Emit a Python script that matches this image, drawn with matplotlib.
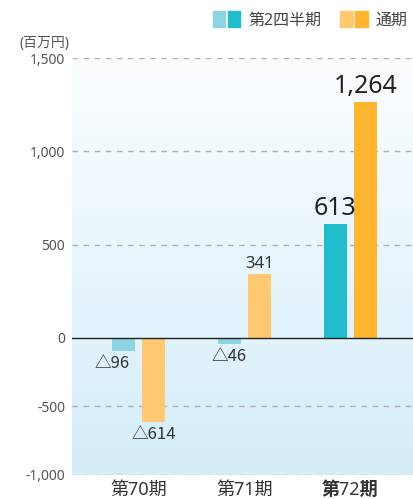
import numpy as np
import matplotlib.pyplot as plt
from matplotlib.patches import Patch
from matplotlib.legend_handler import HandlerTuple
from matplotlib.colors import LinearSegmentedColormap

plt.rcParams['font.family'] = ['Noto Sans', 'Noto Sans CJK JP', 'DejaVu Sans']

periods = ['第70期', '第71期', '第72期']
q2 = [-96, -46, 613]
full = [-614, 341, 1264]
q2_labels = ['△96', '△46', '613']
full_labels = ['△614', '341', '1,264']
yticks = [-1000, -500, 0, 500, 1000, 1500]
ytick_labels = ['-1,000', '-500', '0', '500', '1,000', '1,500']

cyan_light, cyan_dark = '#8dd5e1', '#22bdcc'
orange_light, orange_dark = '#ffc871', '#ffb530'
txt = '#333333'

NEG = 0.734  # negative side is drawn compressed


def fwd(y):
    y = np.asarray(y, dtype=float)
    return np.where(y >= 0, y, y * NEG)


def inv(y):
    y = np.asarray(y, dtype=float)
    return np.where(y >= 0, y, y / NEG)


fig = plt.figure(figsize=(4.14, 4.99), dpi=100)
ax = fig.add_axes([72 / 414, 24 / 499, 342 / 414, 417 / 499])
ax.set_yscale('function', functions=(fwd, inv))
ax.set_xlim(-0.627, 2.599)
ax.set_ylim(-1000, 1500)

# background gradient
grad = LinearSegmentedColormap.from_list('bg', ['#d4edf9', '#fbfdff'])
ax.imshow(np.linspace(0, 1, 256).reshape(-1, 1), cmap=grad, aspect='auto',
          extent=[0, 1, 0, 1], transform=ax.transAxes, origin='lower', zorder=0)

x = np.arange(len(periods))
w = 0.217
off = 0.1415
c_cols = [cyan_light, cyan_light, cyan_dark]
o_cols = [orange_light, orange_light, orange_dark]
ax.bar(x - off, q2, w, color=c_cols, zorder=3)
ax.bar(x + off, full, w, color=o_cols, zorder=3)

for yv in yticks:
    if yv == 0:
        ax.axhline(0, color='#222222', lw=1.0, zorder=4)
    else:
        ax.axhline(yv, color='#b0b0b0', lw=1.0, ls=(0, (4, 4)), zorder=1)

# value labels
for i in range(len(periods)):
    for xi, v, lab, dx in [(x[i] - off, q2[i], q2_labels[i], -8 if i == 0 else 0),
                           (x[i] + off, full[i], full_labels[i], 0)]:
        big = i == 2
        fs = 18 if big else 12
        if v >= 0:
            ax.annotate(lab, (xi, v), xytext=(dx, 2), textcoords='offset points',
                        ha='center', va='bottom', fontsize=fs, color='#222222' if big else txt)
        else:
            ax.annotate(lab, (xi, v), xytext=(dx, -3), textcoords='offset points',
                        ha='center', va='top', fontsize=fs, color=txt,
                        family=['Noto Sans CJK JP', 'Noto Sans'])

ax.set_yticks(yticks)
ax.set_yticklabels(ytick_labels, fontsize=10, color='#555555')
ax.set_xticks(x)
ax.set_xticklabels(periods, fontsize=13, color=txt)
ax.get_xticklabels()[2].set_fontweight('bold')
ax.tick_params(length=0, pad=5)
ax.tick_params(axis='x', pad=4)
for s in ax.spines.values():
    s.set_visible(False)

fig.text(20 / 414, 1 - 44 / 499, '(百万円)', fontsize=10, color='#555555', va='center', ha='left')

handles = [(Patch(color=cyan_light), Patch(color=cyan_dark)),
           (Patch(color=orange_light), Patch(color=orange_dark))]
fig.legend(handles, ['第2四半期', '通期'], handler_map={tuple: HandlerTuple(ndivide=None, pad=0.15)},
           loc='upper right', bbox_to_anchor=(1.0, 0.99), ncol=2, frameon=False,
           handlelength=1.7, handleheight=1.1, handletextpad=0.5, columnspacing=1.2,
           prop={'size': 11.5}, labelcolor='#444444', borderaxespad=0.0)

fig.savefig('out.png', dpi=100)
